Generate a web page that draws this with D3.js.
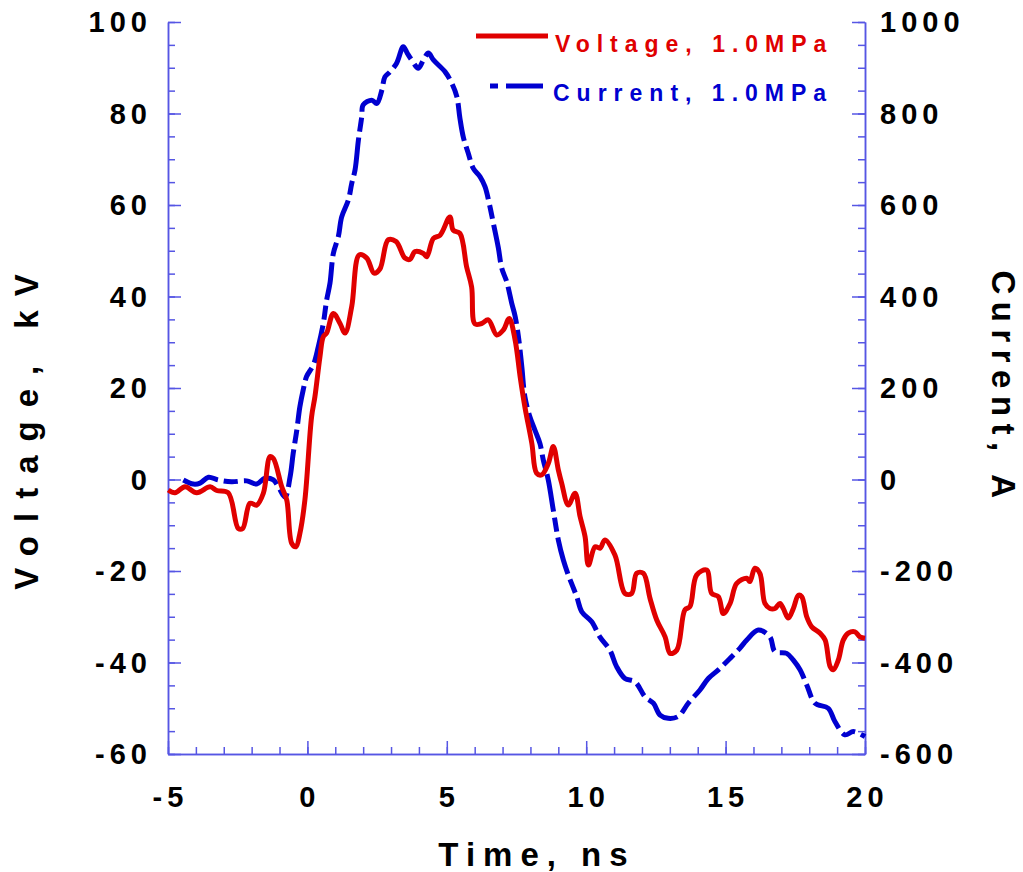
<!doctype html>
<html lang="en">
  <head>
    <meta charset="utf-8" />
    <title>Voltage and current, 1.0 MPa</title>
    <style>
      body { margin: 0; background: #fff; }
      text { font-family: "Liberation Sans", Arial, sans-serif; font-weight: bold; }
    </style>
  </head>
  <body>
    <div id="chart"></div>
    <script src="https://d3js.org/d3.v7.min.js"></script>
    <script>
// time in ns, voltage in kV
var voltTime = [-4.99,-4.75,-4.39,-3.97,-3.49,-3.25,-2.84,-2.48,-2.32,-2.06,-1.82,-1.58,-1.34,-1.22,-0.92,-0.74,-0.56,-0.41,-0.27,-0.09,
  0.15,0.27,0.45,0.57,0.69,0.93,1.17,1.35,1.59,1.86,2.13,2.39,2.60,2.90,3.18,3.50,3.68,3.86,4.16,4.28,4.52,4.76,5.11,5.23,5.47,5.71,5.89,6.01,
  6.25,6.49,6.79,7.03,7.24,7.45,7.63,7.80,8.05,8.22,8.40,8.64,8.82,9.00,9.12,9.36,9.60,9.78,9.96,10.08,10.32,10.50,10.67,11.03,11.39,11.63,
  11.81,12.05,12.29,12.53,12.83,13.01,13.25,13.54,13.72,13.96,14.32,14.50,14.74,14.92,15.16,15.40,15.76,15.87,16.05,16.23,16.41,16.59,16.77,
  16.95,17.07,17.25,17.43,17.61,17.73,17.91,18.09,18.39,18.57,18.75,18.86,19.04,19.22,19.40,19.64,19.82,20.00];
var voltage = [-2.3,-2.9,-1.6,-2.9,-1.6,-2.4,-2.9,-10.7,-10.7,-5.2,-5.6,-3.0,5.0,4.6,-1.6,-4.5,-14.0,-14.7,-11.8,-4.5,
  13.7,18.1,26.8,31.2,32.0,36.3,34.1,32.0,37.8,49.1,48.4,45.1,46.0,52.4,52.0,48.4,48.1,49.8,49.4,48.7,52.7,53.4,57.4,54.5,53.8,46.5,42.1,34.0,
  34.1,34.9,31.6,32.7,35.2,30.5,22.5,15.9,7.9,1.4,1.0,3.5,7.2,2.1,-0.8,-5.6,-3.0,-8.1,-12.5,-18.7,-14.7,-15.0,-13.2,-16.5,-24.9,-24.9,
  -20.5,-20.5,-26.0,-30.7,-34.4,-38.0,-37.3,-28.5,-27.8,-20.9,-19.8,-24.9,-25.6,-29.3,-27.1,-22.7,-21.6,-22.3,-19.4,-20.5,-27.1,-28.2,-28.2,
  -27.1,-28.2,-30.3,-28.2,-25.3,-25.6,-30.0,-32.2,-33.6,-35.1,-40.9,-41.6,-39.5,-35.1,-33.6,-33.3,-34.4,-34.7];

// time in ns, current in A
var currTime = [-4.45,-4.09,-3.85,-3.55,-3.20,-2.72,-2.18,-1.82,-1.52,-1.22,-1.04,-0.80,-0.62,-0.51,-0.38,-0.27,-0.15,-0.03,0.21,0.39,0.57,
  0.69,0.81,0.93,1.11,1.23,1.47,1.59,1.71,1.83,1.95,2.00,2.31,2.49,2.67,2.78,2.96,3.20,3.44,3.58,3.74,3.98,4.16,4.34,4.52,4.94,5.18,5.36,
  5.47,5.59,5.77,5.95,6.19,6.37,6.52,6.67,6.85,6.97,7.15,7.33,7.45,7.57,7.69,7.80,7.98,8.16,8.34,8.46,8.64,8.82,9.00,9.18,9.36,9.66,9.84,
  10.20,10.49,10.85,11.09,11.39,11.75,12.11,12.41,12.65,12.94,13.30,13.66,14.08,14.38,14.74,15.16,15.51,15.76,16.17,16.59,16.77,17.19,17.43,
  17.67,17.91,18.21,18.68,18.92,19.28,19.58,19.88,20.00];
var current = [-1,-10,-8,5,-1,-5,-3,-10,3,-1,-16,-38,6,57,108,159,196,225,250,290,341,
  392,429,494,531,574,611,647,677,742,793,819,829,822,851,880,891,910,946,932,917,899,917,932,917,891,866,837,
  790,749,713,680,662,640,604,560,506,462,432,385,357,312,247,181,137,108,79,43,-1,-67,-132,-176,-209,-256,-289,
  -311,-344,-373,-409,-435,-442,-475,-489,-515,-522,-518,-489,-460,-435,-416,-391,-369,-351,-329,-344,-376,-380,-395,
  -416,-449,-489,-500,-529,-558,-551,-558,-562];

var timeTicks = [-5, 0, 5, 10, 15, 20];
var voltTicks = [100, 80, 60, 40, 20, 0, -20, -40, -60];
var currTicks = [1000, 800, 600, 400, 200, 0, -200, -400, -600];
var legendNames = ["Voltage, 1.0MPa", "Current, 1.0MPa"];

var W = 1023, H = 872;
var red = "#e00000", blue = "#0000d0", axisCol = "#5656e4";

var svg = d3.select("#chart").append("svg")
  .attr("width", W)
  .attr("height", H);

var x = d3.scaleLinear().domain([-5, 20]).range([168, 865]);
var y = d3.scaleLinear().domain([-60, 100]).range([754, 22]);
var yR = d3.scaleLinear().domain([-600, 1000]).range([754, 22]);

// axes: ticks point inward, labels drawn by hand below
function styleAxis(g) {
  g.selectAll("path,line").attr("stroke", axisCol).attr("stroke-width", 1.5);
  g.selectAll("text").remove();
}

svg.append("g").attr("transform", "translate(0,754)")
  .call(d3.axisBottom(x).tickValues(d3.range(-5, 21, 1)).tickSize(-7).tickSizeOuter(0).tickFormat(""))
  .call(styleAxis);
svg.append("g").attr("transform", "translate(0,754)")
  .call(d3.axisBottom(x).tickValues(timeTicks).tickSize(-13).tickSizeOuter(0).tickFormat(""))
  .call(styleAxis);

svg.append("g").attr("transform", "translate(168,0)")
  .call(d3.axisLeft(y).tickValues(d3.range(-60, 101, 5)).tickSize(-7).tickSizeOuter(0).tickFormat(""))
  .call(styleAxis);
svg.append("g").attr("transform", "translate(168,0)")
  .call(d3.axisLeft(y).tickValues(voltTicks).tickSize(-13).tickSizeOuter(0).tickFormat(""))
  .call(styleAxis);

svg.append("g").attr("transform", "translate(865,0)")
  .call(d3.axisRight(yR).tickValues(d3.range(-600, 1001, 50)).tickSize(-7).tickSizeOuter(0).tickFormat(""))
  .call(styleAxis);
svg.append("g").attr("transform", "translate(865,0)")
  .call(d3.axisRight(yR).tickValues(currTicks).tickSize(-13).tickSizeOuter(0).tickFormat(""))
  .call(styleAxis);

// tick labels
var ls = 5;
svg.selectAll(".vl").data(voltTicks).enter().append("text")
  .attr("x", 147 + ls).attr("y", function(d){ return y(d) + 10; })
  .attr("text-anchor", "end").attr("font-size", 29).attr("letter-spacing", ls)
  .text(function(d){ return d; });
svg.selectAll(".cl").data(currTicks).enter().append("text")
  .attr("x", 880).attr("y", function(d){ return yR(d) + 10; })
  .attr("text-anchor", "start").attr("font-size", 29).attr("letter-spacing", ls)
  .text(function(d){ return d; });
svg.selectAll(".tl").data(timeTicks).enter().append("text")
  .attr("x", function(d){ return x(d) + ls / 2; }).attr("y", 807)
  .attr("text-anchor", "middle").attr("font-size", 29).attr("letter-spacing", ls)
  .text(function(d){ return d; });

// axis titles
svg.append("text")
  .attr("transform", "translate(38,425) rotate(-90)")
  .attr("text-anchor", "middle").attr("font-size", 33).attr("letter-spacing", 14)
  .text("Voltage, kV");
svg.append("text")
  .attr("transform", "translate(992,388) rotate(90)")
  .attr("text-anchor", "middle").attr("font-size", 33).attr("letter-spacing", 7.5)
  .text("Current, A");
svg.append("text")
  .attr("x", 537).attr("y", 866)
  .attr("text-anchor", "middle").attr("font-size", 33).attr("letter-spacing", 8)
  .text("Time, ns");

// curves
var lineV = d3.line()
  .x(function(d, i){ return x(voltTime[i]); })
  .y(function(d){ return y(d); })
  .curve(d3.curveCatmullRom.alpha(0.5));
var lineI = d3.line()
  .x(function(d, i){ return x(currTime[i]); })
  .y(function(d){ return yR(d); })
  .curve(d3.curveCatmullRom.alpha(0.5));

svg.append("path")
  .datum(current)
  .attr("d", lineI)
  .attr("fill", "none")
  .attr("stroke", blue)
  .attr("stroke-width", 5)
  .attr("stroke-dasharray", "38,6,14,6")
  .attr("stroke-linejoin", "round");

svg.append("path")
  .datum(voltage)
  .attr("d", lineV)
  .attr("fill", "none")
  .attr("stroke", red)
  .attr("stroke-width", 5)
  .attr("stroke-linejoin", "round");

// legend
svg.append("line").attr("x1", 476).attr("x2", 548).attr("y1", 36).attr("y2", 36)
  .attr("stroke", red).attr("stroke-width", 5);
svg.append("line").attr("x1", 490).attr("x2", 543).attr("y1", 86).attr("y2", 86)
  .attr("stroke", blue).attr("stroke-width", 5).attr("stroke-dasharray", "8,8,37,7");
svg.selectAll(".lg").data(legendNames).enter().append("text")
  .attr("x", function(d, i){ return i == 0 ? 555 : 553; })
  .attr("y", function(d, i){ return i == 0 ? 52 : 101; })
  .attr("font-size", 23).attr("letter-spacing", 7)
  .attr("fill", function(d, i){ return i == 0 ? red : blue; })
  .text(function(d){ return d; });
    </script>
  </body>
</html>
